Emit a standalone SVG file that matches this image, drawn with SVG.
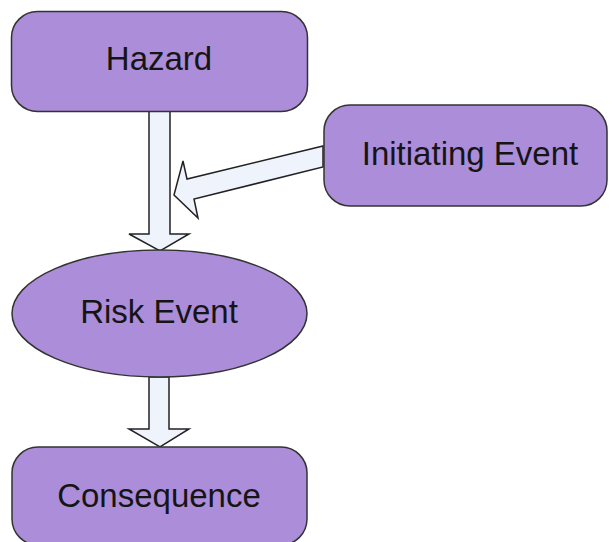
<svg xmlns="http://www.w3.org/2000/svg" width="610" height="542" viewBox="0 0 610 542">
<style>
.node{fill:#ab8dda;stroke:#333;stroke-width:1.5}
.lbl{font-family:"Liberation Sans",Arial,sans-serif;font-size:33px;fill:#151515;text-anchor:middle}
.arr{fill:#eef3fc;stroke:#222;stroke-width:1.5;stroke-linejoin:miter}
</style>
<rect width="610" height="542" fill="#fff"/>
<g id="connectors">
<path class="arr" d="M149,110 L170,110 L170,234 L189,234 L160,251 L129,234 L149,234 Z"/>
<path class="arr" d="M323,146 L323,167 L194,199 L198,218 L174,195 L183,161 L187,179 Z"/>
<path class="arr" d="M149,377 L169,377 L169,429 L189,429 L160,447 L129,429 L149,429 Z"/>
</g>
<g id="hazard">
<rect class="node" x="11.5" y="11.5" width="296" height="100" rx="26"/>
<text class="lbl" x="159" y="70">Hazard</text>
</g>
<g id="initiating-event">
<rect class="node" x="324" y="105" width="283" height="101" rx="26"/>
<text class="lbl" x="470" y="165">Initiating Event</text>
</g>
<g id="risk-event">
<ellipse class="node" cx="159.5" cy="313.5" rx="147.5" ry="63.5"/>
<text class="lbl" x="159" y="323">Risk Event</text>
</g>
<g id="consequence">
<rect class="node" x="12" y="447" width="295" height="98" rx="26"/>
<text class="lbl" x="159" y="507">Consequence</text>
</g>
</svg>
